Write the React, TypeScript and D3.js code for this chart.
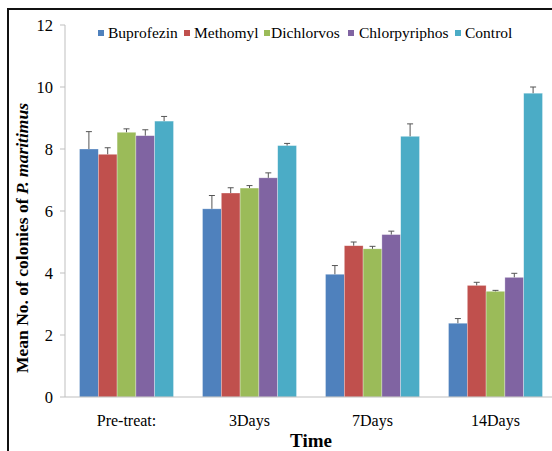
import React from "react";
import * as d3 from "d3";

const categories = ["Pre-treat:", "3Days", "7Days", "14Days"];
const seriesNames = ["Buprofezin", "Methomyl", "Dichlorvos", "Chlorpyriphos", "Control"];
const seriesColors = ["#4F81BD", "#C0504D", "#9BBB59", "#8064A2", "#4BACC6"];

// mean colonies per series, one value per time point
const buprofezin = [8.0, 6.07, 3.96, 2.38];
const methomyl = [7.83, 6.58, 4.88, 3.6];
const dichlorvos = [8.54, 6.74, 4.78, 3.41];
const chlorpyriphos = [8.43, 7.07, 5.24, 3.86];
const control = [8.9, 8.11, 8.41, 9.8];

// upper error (standard error) per series
const buprofezinErr = [0.56, 0.43, 0.28, 0.15];
const methomylErr = [0.21, 0.17, 0.12, 0.1];
const dichlorvosErr = [0.11, 0.08, 0.08, 0.03];
const chlorpyriphosErr = [0.19, 0.16, 0.11, 0.13];
const controlErr = [0.15, 0.07, 0.4, 0.2];

const yTicks = [0, 2, 4, 6, 8, 10, 12];

const values = [buprofezin, methomyl, dichlorvos, chlorpyriphos, control];
const errors = [buprofezinErr, methomylErr, dichlorvosErr, chlorpyriphosErr, controlErr];

const W = 552;
const H = 451;
const FONT = "Liberation Serif";

export default function App() {
  const left = 65;
  const bandW = 123;
  const x0 = d3
    .scaleBand<string>()
    .domain(categories)
    .range([left, left + bandW * categories.length])
    .padding(0);
  const x1 = d3
    .scaleBand<string>()
    .domain(seriesNames)
    .range([14.5, bandW - 14.5])
    .padding(0);
  const y = d3.scaleLinear().domain([0, 12]).range([397, 25]);

  const legendItems = [
    { x: 98, tx: 108 },
    { x: 184, tx: 194 },
    { x: 264, tx: 271 },
    { x: 348, tx: 359 },
    { x: 455, tx: 465 },
  ];

  return (
    <svg
      width={W}
      height={H}
      style={{ position: "absolute", left: 0, top: 0, background: "#fff" }}
    >
      <rect x={0} y={0} width={W} height={H} fill="#fff" />
      {/* frame */}
      <line x1={7} y1={9} x2={W} y2={9} stroke="#111" strokeWidth={2} />
      <line x1={8} y1={8} x2={8} y2={H} stroke="#111" strokeWidth={2} />

      {/* bars */}
      {categories.map((c, ci) => (
        <g key={c}>
          {seriesNames.map((s, si) => {
            const v = values[si][ci];
            const e = errors[si][ci];
            const bx = (x0(c) as number) + (x1(s) as number);
            const bw = x1.bandwidth();
            const cx = bx + bw / 2;
            return (
              <g key={s}>
                <rect
                  x={bx}
                  y={y(v)}
                  width={bw}
                  height={y(0) - y(v)}
                  fill={seriesColors[si]}
                  stroke="#ffffff"
                  strokeOpacity={0.5}
                  strokeWidth={0.6}
                />
                <line x1={cx} x2={cx} y1={y(v)} y2={y(v + e)} stroke="#555" strokeWidth={1} />
                <line x1={cx - 3} x2={cx + 3} y1={y(v + e)} y2={y(v + e)} stroke="#555" strokeWidth={1} />
              </g>
            );
          })}
        </g>
      ))}

      {/* y axis */}
      <line x1={left} x2={left} y1={y(12)} y2={y(0)} stroke="#bfbfbf" strokeWidth={1} />
      {yTicks.map((t) => (
        <g key={t}>
          <line x1={left - 5} x2={left} y1={y(t)} y2={y(t)} stroke="#bfbfbf" strokeWidth={1} />
          <text
            x={53}
            y={y(t)}
            dy="0.35em"
            textAnchor="end"
            fontFamily={FONT}
            fontSize={16.5}
            fill="#000"
          >
            {t}
          </text>
        </g>
      ))}
      {/* x axis */}
      <line x1={left} x2={W} y1={y(0)} y2={y(0)} stroke="#bfbfbf" strokeWidth={1} />
      {categories.map((c) => (
        <text
          key={c}
          x={(x0(c) as number) + bandW / 2}
          y={426}
          textAnchor="middle"
          fontFamily={FONT}
          fontSize={16}
          fill="#000"
        >
          {c}
        </text>
      ))}
      <text
        x={311}
        y={447}
        textAnchor="middle"
        fontFamily={FONT}
        fontSize={19}
        fontWeight="bold"
        fill="#000"
      >
        Time
      </text>
      <text
        transform={`translate(28, 238) rotate(-90)`}
        textAnchor="middle"
        fontFamily={FONT}
        fontSize={17.5}
        fontWeight="bold"
        fill="#000"
      >
        Mean No. of colonies of <tspan fontStyle="italic">P. maritimus</tspan>
      </text>

      {/* legend */}
      {seriesNames.map((s, i) => (
        <g key={s}>
          <rect x={legendItems[i].x} y={30} width={6} height={6} fill={seriesColors[i]} />
          <text x={legendItems[i].tx} y={38} fontFamily={FONT} fontSize={15.5} fill="#000">
            {s}
          </text>
        </g>
      ))}
    </svg>
  );
}
